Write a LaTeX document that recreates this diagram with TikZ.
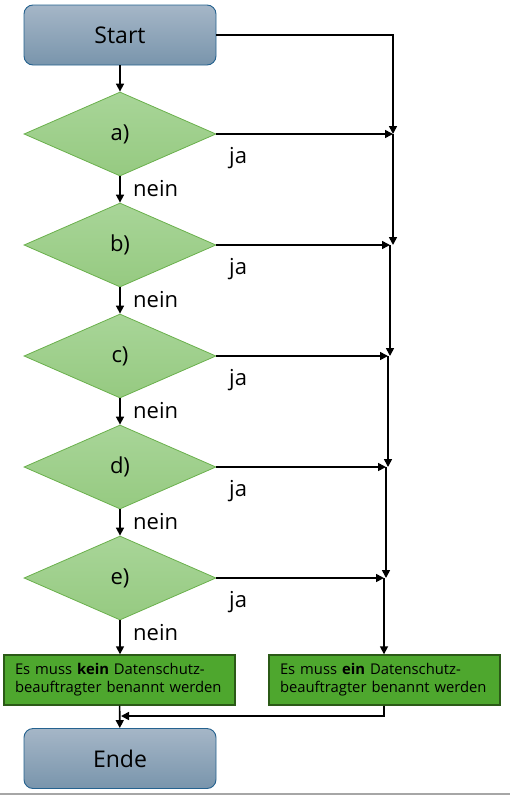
\documentclass[tikz,border=0pt]{standalone}
\usepackage{fontspec}
\setmainfont{Open Sans}
\usetikzlibrary{arrows.meta,shapes.geometric}
\definecolor{termtop}{HTML}{A5B6C7}
\definecolor{termbot}{HTML}{7995AC}
\definecolor{termborder}{HTML}{25628F}
\definecolor{dectop}{HTML}{A8D598}
\definecolor{decbot}{HTML}{96CA81}
\definecolor{decborder}{HTML}{6AB04C}
\definecolor{resfill}{HTML}{4EA72E}
\definecolor{resborder}{HTML}{2B5A17}
\begin{document}
\begin{tikzpicture}[x=1pt,y=-1pt,
  term/.style={draw=termborder, line width=0.9pt, rounded corners=9pt,
    top color=termtop, bottom color=termbot, minimum width=192pt,
    minimum height=60pt, inner sep=0pt, font=\fontsize{23}{26}\selectfont},
  dec/.style={diamond, draw=decborder, line width=0.8pt, top color=dectop,
    bottom color=decbot, minimum width=192pt, minimum height=84pt,
    inner sep=0pt, font=\fontsize{22}{26}\selectfont},
  result/.style={draw=resborder, line width=1.4pt, fill=resfill,
    minimum width=231pt, minimum height=50pt, inner xsep=11pt, inner ysep=0pt,
    text width=209pt, align=left, font=\fontsize{14.8}{18}\selectfont},
  flow/.style={line width=1.6pt, -{Triangle[length=8pt,width=8pt]}},
  lbl/.style={font=\fontsize{22}{26}\selectfont, inner sep=0pt}
]
\useasboundingbox (0,0) rectangle (510,795);

\node[term] (start) at (120,35) {Start};
\node[dec] (a) at (120,134) {a)};
\node[dec] (b) at (120,245) {b)};
\node[dec] (c) at (120,356) {c)};
\node[dec] (d) at (120,467) {d)};
\node[dec] (e) at (120,578) {e)};
\node[result] (no) at (119.5,680) {Es muss \textbf{kein} Datenschutz-\\beauftragter benannt werden};
\node[result] (yes) at (384.5,680) {Es muss \textbf{ein} Datenschutz-\\beauftragter benannt werden};
\node[term] (ende) at (120,758.5) {Ende};

\coordinate (ja) at (393,134);
\coordinate (jb) at (390,245);
\coordinate (jc) at (388,356);
\coordinate (jd) at (386,467);
\coordinate (je) at (384,578);
\coordinate (m) at (121,716);

\draw[flow] (start) -- (a);
\draw[flow] (a) -- (b);
\draw[flow] (b) -- (c);
\draw[flow] (c) -- (d);
\draw[flow] (d) -- (e);
\draw[flow] (e) -- (e |- no.north);
\draw[flow] (no) -- (ende);

\draw[flow] (start.east) -| (ja);
\draw[flow] (a.east) -- (ja);
\draw[flow] (b.east) -- (jb);
\draw[flow] (c.east) -- (jc);
\draw[flow] (d.east) -- (jd);
\draw[flow] (e.east) -- (je);
\draw[flow] (ja) -- (ja |- jb);
\draw[flow] (jb) -- (jb |- jc);
\draw[flow] (jc) -- (jc |- jd);
\draw[flow] (jd) -- (jd |- je);
\draw[flow] (je) -- (je |- yes.north);
\draw[flow] (yes.south -| je) |- (m);

\foreach \n/\y in {a/134,b/245,c/356,d/467,e/578}{
  \node[lbl, anchor=base west] (ja\n) at (229,\y+29) {ja};
  \node[lbl, anchor=base west] (nein\n) at (133,\y+62) {nein};
}

\draw[gray!70, line width=1.5pt] (0,794) -- (510,794);
\end{tikzpicture}
\end{document}
